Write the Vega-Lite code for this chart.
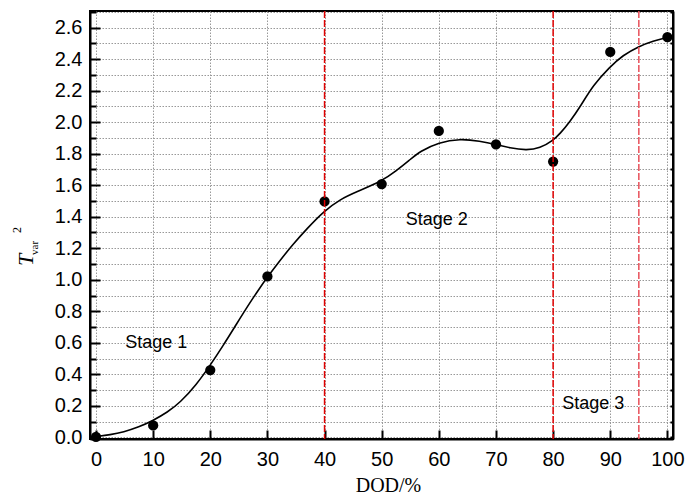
{
  "$schema": "https://vega.github.io/schema/vega-lite/v6.json",
  "width": 583,
  "height": 428,
  "autosize": "none",
  "padding": {"left": 90, "top": 11, "right": 14, "bottom": 58},
  "background": "white",
  "config": {
    "view": {"stroke": "black", "strokeWidth": 2},
    "font": "Liberation Sans"
  },
  "datasets": {
    "pts": [
      {"dod": 0, "t2": 0.003},
      {"dod": 10, "t2": 0.076},
      {"dod": 20, "t2": 0.427},
      {"dod": 30, "t2": 1.021},
      {"dod": 40, "t2": 1.497},
      {"dod": 50, "t2": 1.607},
      {"dod": 60, "t2": 1.944},
      {"dod": 70, "t2": 1.859},
      {"dod": 80, "t2": 1.75},
      {"dod": 90, "t2": 2.445},
      {"dod": 100, "t2": 2.54}
    ],
    "curve": [
      {"dod": 0, "t2": 0.005},
      {"dod": 2.5, "t2": 0.017},
      {"dod": 4.8, "t2": 0.034},
      {"dod": 7.5, "t2": 0.066},
      {"dod": 10, "t2": 0.107},
      {"dod": 12.5, "t2": 0.16},
      {"dod": 14.7, "t2": 0.22},
      {"dod": 17.6, "t2": 0.336},
      {"dod": 19.9, "t2": 0.453},
      {"dod": 22.3, "t2": 0.585},
      {"dod": 24.6, "t2": 0.72},
      {"dod": 26.9, "t2": 0.853},
      {"dod": 28.7, "t2": 0.95},
      {"dod": 30, "t2": 1.017},
      {"dod": 32.2, "t2": 1.123},
      {"dod": 34.5, "t2": 1.226},
      {"dod": 36.9, "t2": 1.324},
      {"dod": 39.9, "t2": 1.436},
      {"dod": 42.7, "t2": 1.51},
      {"dod": 45.6, "t2": 1.558},
      {"dod": 50, "t2": 1.625},
      {"dod": 52.5, "t2": 1.69},
      {"dod": 54.9, "t2": 1.76},
      {"dod": 56.7, "t2": 1.815},
      {"dod": 60, "t2": 1.872},
      {"dod": 63.7, "t2": 1.895},
      {"dod": 67.2, "t2": 1.88},
      {"dod": 70, "t2": 1.859},
      {"dod": 72.4, "t2": 1.836},
      {"dod": 75.3, "t2": 1.821},
      {"dod": 77.7, "t2": 1.834},
      {"dod": 80, "t2": 1.884},
      {"dod": 81.2, "t2": 1.927},
      {"dod": 82.9, "t2": 2.0},
      {"dod": 84.9, "t2": 2.107},
      {"dod": 87, "t2": 2.234},
      {"dod": 89.9, "t2": 2.35},
      {"dod": 92.2, "t2": 2.424},
      {"dod": 95, "t2": 2.481},
      {"dod": 97.5, "t2": 2.515},
      {"dod": 100, "t2": 2.538}
    ],
    "vlines": [{"dod": 40}, {"dod": 80}, {"dod": 95}],
    "stages": [
      {"dod": 5.1, "t2": 0.6, "label": "Stage 1"},
      {"dod": 54.2, "t2": 1.381, "label": "Stage 2"},
      {"dod": 81.6, "t2": 0.209, "label": "Stage 3"}
    ],
    "tmain": [{"dod": -12.3, "t2": 1.127, "part": "T"}],
    "tsub": [{"dod": -10.6, "t2": 1.202, "part": "var"}],
    "tsup": [{"dod": -13.8, "t2": 1.315, "part": "2"}]
  },
  "layer": [
    {
      "data": {"name": "pts"},
      "mark": {"type": "circle", "size": 105, "color": "black", "opacity": 1},
      "encoding": {
        "x": {
          "field": "dod", "type": "quantitative",
          "scale": {"domain": [-1.05, 100.98], "nice": false, "zero": false},
          "axis": {
            "orient": "bottom",
            "values": [0,5,10,15,20,25,30,35,40,45,50,55,60,65,70,75,80,85,90,95,100],
            "labelExpr": "datum.value % 10 === 0 ? datum.label : ''",
            "labelOverlap": false,
            "labelFlush": false,
            "labelFont": "Liberation Sans",
            "labelFontSize": 20,
            "labelColor": "black",
            "labelPadding": 19,
            "tickSize": {"condition": {"test": "datum.value % 10 === 0", "value": -9}, "value": -6},
            "tickColor": "black",
            "tickWidth": 2,
            "domainColor": "black",
            "domainWidth": 2,
            "grid": true,
            "gridColor": "#999999",
            "gridDash": [1.5, 1.5],
            "gridWidth": 1,
            "title": "DOD/%",
            "titleFont": "Liberation Serif",
            "titleFontSize": 20,
            "titleFontWeight": "normal",
            "titleColor": "black",
            "titlePadding": 6,
            "titleX": 298
          }
        },
        "y": {
          "field": "t2", "type": "quantitative",
          "scale": {"domain": [-0.01, 2.705], "nice": false, "zero": false},
          "axis": {
            "orient": "left",
            "values": [0,0.1,0.2,0.3,0.4,0.5,0.6,0.7,0.8,0.9,1,1.1,1.2,1.3,1.4,1.5,1.6,1.7,1.8,1.9,2,2.1,2.2,2.3,2.4,2.5,2.6,2.7],
            "format": ".1f",
            "labelExpr": "round(datum.value*10) % 2 === 0 ? datum.label : ''",
            "labelOverlap": false,
            "labelFlush": false,
            "labelFont": "Liberation Sans",
            "labelFontSize": 20,
            "labelColor": "black",
            "labelPadding": 18,
            "tickSize": {"condition": {"test": "round(datum.value*10) % 2 === 0", "value": -10}, "value": -6},
            "tickColor": "black",
            "tickWidth": 2,
            "domainColor": "black",
            "domainWidth": 2,
            "grid": true,
            "gridColor": "#999999",
            "gridDash": [1.5, 1.5],
            "gridWidth": 1,
            "title": null
          }
        }
      }
    },
    {
      "data": {"name": "curve"},
      "mark": {"type": "line", "color": "black", "strokeWidth": 1.6, "interpolate": "basis"},
      "encoding": {
        "x": {"field": "dod", "type": "quantitative"},
        "y": {
          "field": "t2", "type": "quantitative",
          "axis": {
            "orient": "right",
            "values": [0,0.1,0.2,0.3,0.4,0.5,0.6,0.7,0.8,0.9,1,1.1,1.2,1.3,1.4,1.5,1.6,1.7,1.8,1.9,2,2.1,2.2,2.3,2.4,2.5,2.6,2.7],
            "labels": false,
            "tickSize": -3,
            "tickColor": "black",
            "tickWidth": 2,
            "domainColor": "black",
            "domainWidth": 2,
            "grid": false,
            "title": null
          }
        }
      }
    },
    {
      "data": {"name": "vlines"},
      "mark": {"type": "rule", "strokeWidth": 1.5, "strokeDash": [7, 2]},
      "encoding": {
        "x": {"field": "dod", "type": "quantitative"},
        "color": {"condition": {"test": "datum.dod === 95", "value": "#e8505a"}, "value": "#e00000"}
      }
    },
    {
      "data": {"name": "stages"},
      "mark": {"type": "text", "align": "left", "baseline": "middle", "font": "Liberation Sans", "fontSize": 18, "color": "black"},
      "encoding": {
        "x": {"field": "dod", "type": "quantitative"},
        "y": {"field": "t2", "type": "quantitative", "axis": null},
        "text": {"field": "label"}
      }
    },
    {
      "data": {"name": "tmain"},
      "mark": {"type": "text", "align": "center", "baseline": "middle", "font": "Liberation Serif", "fontSize": 22, "fontStyle": "italic", "angle": 270, "color": "black"},
      "encoding": {
        "x": {"field": "dod", "type": "quantitative"},
        "y": {"field": "t2", "type": "quantitative", "axis": null},
        "text": {"field": "part"}
      }
    },
    {
      "data": {"name": "tsub"},
      "mark": {"type": "text", "align": "center", "baseline": "middle", "font": "Liberation Serif", "fontSize": 11, "angle": 270, "color": "black"},
      "encoding": {
        "x": {"field": "dod", "type": "quantitative"},
        "y": {"field": "t2", "type": "quantitative", "axis": null},
        "text": {"field": "part"}
      }
    },
    {
      "data": {"name": "tsup"},
      "mark": {"type": "text", "align": "center", "baseline": "middle", "font": "Liberation Serif", "fontSize": 12, "angle": 270, "color": "black"},
      "encoding": {
        "x": {"field": "dod", "type": "quantitative"},
        "y": {"field": "t2", "type": "quantitative", "axis": null},
        "text": {"field": "part"}
      }
    }
  ],
  "resolve": {"axis": {"y": "independent"}}
}
